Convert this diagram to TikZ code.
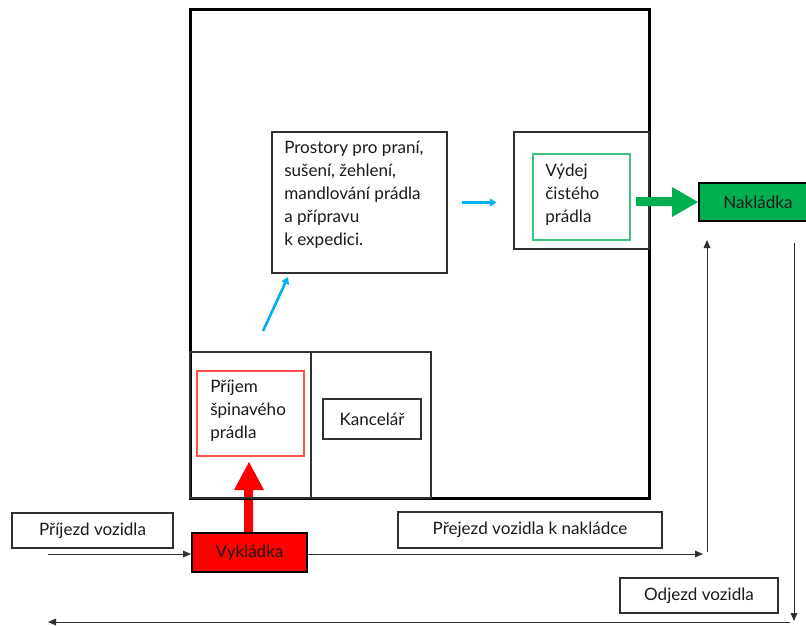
\documentclass[tikz,border=0pt]{standalone}
\usepackage{fontspec}
\setmainfont{Lato}
\usetikzlibrary{arrows.meta,calc}
\definecolor{boxgray}{HTML}{303030}
\definecolor{txt}{HTML}{1A1A1A}
\definecolor{bluearr}{HTML}{00B0F0}
\definecolor{greenfill}{HTML}{00B050}
\definecolor{greenline}{HTML}{3CC47C}
\definecolor{redline}{HTML}{FF5050}
\begin{document}
\begin{tikzpicture}[x=0.75pt,y=-0.75pt,
  every node/.style={font=\fontsize{12.8pt}{17.25pt}\selectfont, text=txt},
  rbox/.style 2 args={draw=boxgray, line width=0.8pt, inner sep=0pt, minimum width=#1*0.75pt, minimum height=#2*0.75pt},
  lbl/.style={anchor=north west, inner sep=0pt, align=left},
  flow/.style={draw=boxgray, line width=0.75pt, -{Triangle[length=6pt,width=5pt]}},
  blue/.style={draw=bluearr, line width=2pt, -{Triangle[length=5pt,width=6pt]}}
]
\useasboundingbox (0,0) rectangle (806,625);
% red fat arrow (behind the boxes)
\fill[red] (244,534) -- (244,490) -- (234,490) -- (249,462) -- (264,490) -- (253,490) -- (253,534) -- cycle;
% building
\node[rbox={459}{489}, draw=black, line width=2.25pt] (bld) at (419.5,253.5) {};
% rooms
\node[rbox={121}{146}] (proom) at (250.5,425) {};
\node[rbox={120}{146}] (kroom) at (371,425) {};
\node[rbox={175}{141}] (prost) at (359.5,202.5) {};
\node[lbl] (prosttxt) at (284,141) {Prostory pro praní,\\sušení, žehlení,\\mandlování prádla\\a přípravu\\k expedici.};
\node[rbox={135}{117}] (vydout) at (581.5,190.5) {};
\node[rbox={97}{86}, draw=greenline] (vydej) at (581.5,197) {};
\node[lbl] (vydtxt) at (545,164) {Výdej\\čistého\\prádla};
\node[rbox={107}{85}, draw=redline] (prijem) at (250.5,413.5) {};
\node[lbl] (prijtxt) at (210,380) {Příjem\\špinavého\\prádla};
\node[rbox={98}{40}] (kanc) at (372,419) {Kancelář};
% outside
\node[rbox={118}{38}, draw=black, line width=1.5pt, fill=greenfill] (nakl) at (758,202) {Nakládka};
\node[rbox={115}{39}, draw=black, line width=1.5pt, fill=red] (vykl) at (249.5,552.5) {Vykládka};
\node[rbox={161}{35}] (prijezd) at (92.5,530.5) {Příjezd vozidla};
\node[rbox={264}{36}] (prejezd) at (530,530) {Přejezd vozidla k nakládce};
\node[rbox={158}{35}] (odjezd) at (699,595.5) {Odjezd vozidla};
% coordinates
\coordinate (in1) at (48,554);
\coordinate (p1) at (703,554);
\coordinate (p2) at (707,552);
\coordinate (p3) at (707,240);
\coordinate (q1) at (794,243);
\coordinate (q2) at (794,621);
\coordinate (q3) at (790,622);
\coordinate (q4) at (48,622);
\coordinate (b1) at (263,331);
\coordinate (b2) at (288,277);
% connectors
\draw[flow] (in1) -- (in1 -| vykl.west);
\draw[flow] (vykl.east |- p1) -- (p1);
\draw[flow] (p2) -- (p3);
\draw[flow] (q1) -- (q2);
\draw[flow] (q3) -- (q4);
\draw[blue, shorten <=10.5pt, shorten >=12.75pt] (prost.east) -- (prost.east -| vydout.west);
\draw[blue] (b1) -- (b2);
% green fat arrow
\fill[greenfill] (636,197) -- (672,197) -- (672,187) -- (nakl.west) -- (672,217) -- (672,206) -- (636,206) -- cycle;
\end{tikzpicture}
\end{document}
